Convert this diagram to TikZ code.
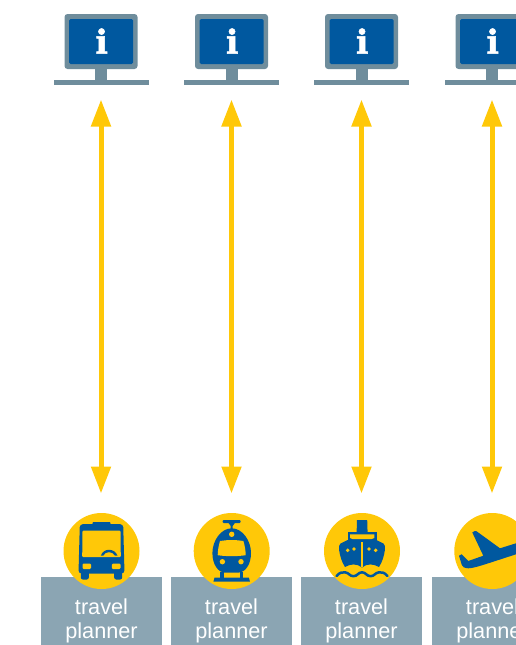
\documentclass[tikz,border=0pt]{standalone}
\usepackage{fontspec}
\setmainfont{Liberation Sans}
\newfontfamily\infofont[FakeBold=1.5]{DejaVu Serif Bold}
\usetikzlibrary{arrows.meta}
\definecolor{ivyellow}{HTML}{FFC808}
\definecolor{ivblue}{HTML}{00589F}
\definecolor{ivmon}{HTML}{6F8D9C}
\definecolor{ivgrey}{HTML}{8BA5B3}
\tikzset{
  x=1pt,y=-1pt,
  link/.style={draw=ivyellow,line width=5pt,{Triangle[width=19pt,length=27pt]}-{Triangle[width=19pt,length=27pt]},shorten <=14.5pt,shorten >=19.5pt},
  screen/.style={rectangle,rounded corners=3pt,fill=ivmon,minimum width=73pt,minimum height=55pt,inner sep=0pt},
  display/.style={rectangle,rounded corners=1.5pt,fill=ivblue,minimum width=64pt,minimum height=45pt,inner sep=0pt},
  foot/.style={rectangle,fill=ivmon,minimum width=95pt,minimum height=5pt,inner sep=0pt,outer sep=0pt},
  neck/.style={rectangle,fill=ivmon,minimum width=12pt,minimum height=12pt,inner sep=0pt},
  infoi/.style={text=white,font=\infofont\fontsize{33}{33}\selectfont,inner sep=0pt},
  disc/.style={circle,fill=ivyellow,minimum size=76pt,inner sep=0pt,outer sep=0pt},
  panel/.style={rectangle,fill=ivgrey,minimum width=121pt,minimum height=68pt,inner sep=0pt},
  caption/.style={text=white,align=center,inner sep=0pt,font=\fontsize{21.7}{24}\selectfont},
  iconb/.style={fill=ivblue,draw=none},
  icony/.style={fill=ivyellow,draw=none},
}
\begin{document}
\begin{tikzpicture}
\useasboundingbox (0,0) rectangle (516,645);
\clip (0,0) rectangle (516,645);
% monitors
\foreach \n/\x in {1/101,2/231.5,3/361.5,4/492}{
  \node[neck] (neck\n) at (\x,74.5) {};
  \node[screen] (screen\n) at (\x,41.5) {};
  \node[display] (display\n) at (\x,41.5) {};
  \node[foot] (foot\n) at (\x,82.5) {};
  \node[infoi] (info\n) at (\x+0.7,41) {i};
}
% panels, discs, captions
\foreach \n/\x/\p in {1/101.5/101.5,2/231.7/231.5,3/362/361.5,4/492.3/492.5}{
  \node[panel] (panel\n) at (\p,611) {};
  \node[disc] (disc\n) at (\x,551) {};
  \node[caption] (cap\n) at (\p,621) {travel\\planner};
}
% connectors
\draw[link] (foot1.south) -- (foot1.south |- disc1.north);
\draw[link] (foot2.south) -- (foot2.south |- disc2.north);
\draw[link] (foot3.south) -- (foot3.south |- disc3.north);
\draw[link] (foot4.south) -- (foot4.south |- disc4.north);
% bus
\begin{scope}[shift={(disc1.center)}]
  \fill[iconb] (-8.5,-28.8) -- (8.5,-28.8) -- (9.5,-26) -- (-9.5,-26) -- cycle;
  \fill[iconb,rounded corners=3pt] (-23,22.5) -- (-21.7,-26.8) -- (21.7,-26.8) -- (23,22.5) -- cycle;
  \fill[iconb,rounded corners=2pt] (-20.7,18) rectangle (-12.7,28.5);
  \fill[iconb,rounded corners=2pt] (12.7,18) rectangle (20.7,28.5);
  \fill[icony,rounded corners=1pt] (-19,-20.3) -- (19,-20.3) -- (19.3,6) -- (-19.3,6) -- cycle;
  \fill[icony,rounded corners=1.2pt] (-19,12.5) rectangle (-10.5,18);
  \fill[icony,rounded corners=1.2pt] (10.3,12.5) rectangle (19,18);
  \fill[iconb] (-0.7,4.6) .. controls (2,-3.2) and (13,-3.2) .. (16,4.6) -- (13.6,4.6) .. controls (11,0) and (4,0) .. (1.7,4.6) -- cycle;
\end{scope}
% tram
\begin{scope}[shift={(disc2.center)}]
  \fill[iconb,rounded corners=1pt] (-9,-31) rectangle (9,-28);
  \fill[iconb] (-3.5,-28.5) -- (3.5,-28.5) -- (1,-25) -- (1,-22) -- (-1,-22) -- (-1,-25) -- cycle;
  \fill[iconb] (0,-22.7) .. controls (11,-22.7) and (19.3,-10) .. (19.3,2)
     .. controls (19.3,13) and (14,21.7) .. (6,21.7) -- (-6,21.7)
     .. controls (-14,21.7) and (-19.3,13) .. (-19.3,2)
     .. controls (-19.3,-10) and (-11,-22.7) .. (0,-22.7) -- cycle;
  \fill[icony] (-11.7,-10) .. controls (-4,-11.3) and (4,-11.3) .. (11.7,-10)
     .. controls (13,-6) and (14,0) .. (14,4.2)
     .. controls (5,5.5) and (-5,5.5) .. (-14,4.2) .. controls (-14,0) and (-13,-6) .. (-11.7,-10) -- cycle;
  \fill[icony] (0,-16.7) circle (2.7);
  \fill[icony] (-9.3,10.7) circle (2.7);
  \fill[icony] (9.3,10.7) circle (2.7);
  \fill[iconb] (-11.5,21) rectangle (-8,27);
  \fill[iconb] (8,21) rectangle (11.5,27);
  \fill[iconb] (-18.3,30.7) -- (-17.2,26.7) -- (17.2,26.7) -- (18.3,30.7) -- cycle;
\end{scope}
% ship
\begin{scope}[shift={(disc3.center)}]
  \fill[iconb] (-5,-31) -- (5.2,-31) -- (5.6,-18) -- (-5.4,-18) -- cycle;
  \fill[iconb] (-14.5,-18.7) -- (14.7,-18.7) -- (14.7,-10) -- (-14.5,-10) -- cycle;
  \fill[icony] (-12,-16.7) -- (12.3,-16.7) -- (12.3,-13) -- (9.7,-12) -- (-9.5,-12) -- (-12,-13) -- cycle;
  \fill[iconb] (-14.5,-11) -- (14.5,-11) -- (21.5,-7.5) -- (22.9,-5) -- (22.9,-1)
     .. controls (22,5) and (20.5,10.5) .. (17,16)
     .. controls (11,12.5) and (5,12.5) .. (0,16.5)
     .. controls (-5,12.5) and (-11,12.5) .. (-17,16)
     .. controls (-20.5,10.5) and (-22,5) .. (-22.9,-1) -- (-22.9,-5) -- (-21.5,-7.5) -- cycle;
  \fill[icony] (-1,-9) rectangle (1,15.5);
  \fill[icony] (-14.3,-0.7) circle (1.9);
  \fill[icony] (-8,-2) circle (1.9);
  \fill[icony] (7,-2) circle (1.9);
  \fill[icony] (13.7,-0.7) circle (1.9);
  \draw[ivblue,line width=2.5pt,line cap=round] (-25.5,25)
     .. controls (-22.5,21.5) and (-20,21) .. (-17,21.3)
     .. controls (-13,21.7) and (-12.5,25.2) .. (-8.5,25.2)
     .. controls (-4.5,25.2) and (-4,21.3) .. (0,21.3)
     .. controls (4,21.3) and (4.5,25.2) .. (8.5,25.2)
     .. controls (12.5,25.2) and (13,21.7) .. (17,21.3)
     .. controls (20,21) and (22.5,21.5) .. (25.5,25);
\end{scope}
% plane
\begin{scope}[shift={(disc4.center)}]
  \fill[iconb] (-33.3,4.7) -- (-30.7,3.3) -- (-24,10) -- (-9,4.7) -- (-20,-18.5) -- (-17.5,-20) -- (-15.7,-19.7)
    -- (7.7,-2.7) -- (23.7,-7.7) .. controls (32,-10) and (38,-9) .. (38,-7)
    .. controls (38,-4) and (30,1) .. (23.7,3.3)
    -- (-4,12.3) .. controls (-14,15.5) and (-20,17.3) .. (-24,17.3)
    .. controls (-28,17) and (-30,16) .. (-30.5,14) -- cycle;
\end{scope}
\end{tikzpicture}
\end{document}
